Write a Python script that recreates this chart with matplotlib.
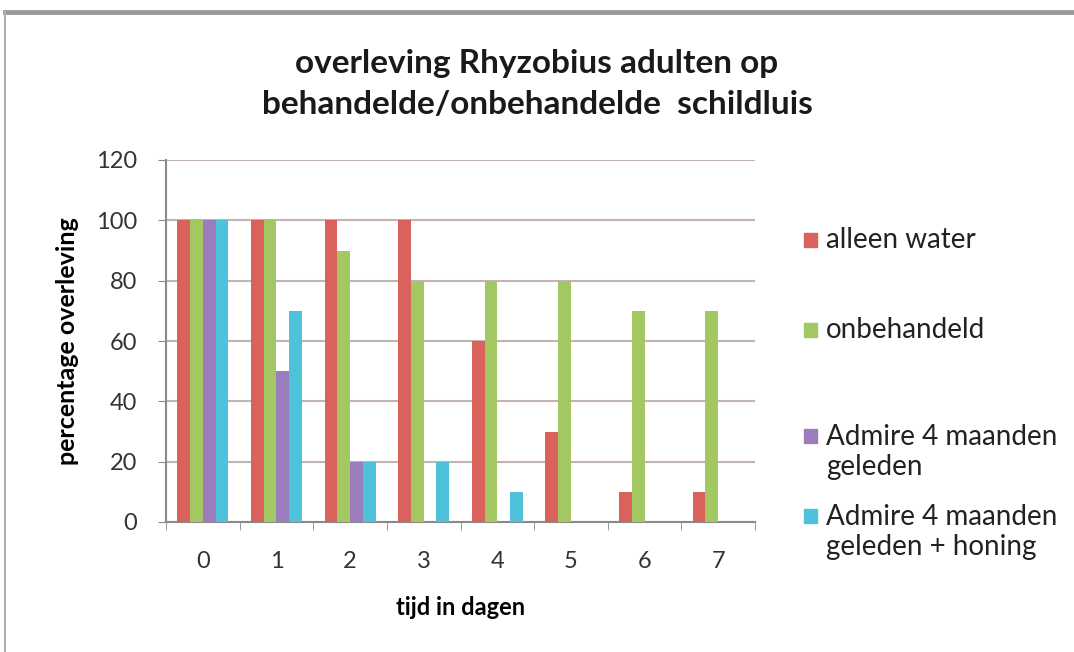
import numpy as np
import matplotlib.pyplot as plt
from matplotlib.lines import Line2D

plt.rcParams['font.family'] = ['Lato', 'DejaVu Sans']

days = ['0', '1', '2', '3', '4', '5', '6', '7']
alleen_water = [100, 100, 100, 100, 60, 30, 10, 10]
onbehandeld = [100, 100, 90, 80, 80, 80, 70, 70]
admire = [100, 50, 20, 0, 0, 0, 0, 0]
admire_honing = [100, 70, 20, 20, 10, 0, 0, 0]

series = [
    ('alleen water', alleen_water, '#d9625c'),
    ('onbehandeld', onbehandeld, '#a3c862'),
    ('Admire 4 maanden\ngeleden', admire, '#9b7dbd'),
    ('Admire 4 maanden\ngeleden + honing', admire_honing, '#4ec2db'),
]

fig = plt.figure(figsize=(10.74, 6.52), dpi=100)
ax = fig.add_axes([166 / 1074, 1 - 522 / 652, 589 / 1074, 362 / 652])

x = np.arange(len(days))
w = 0.173
for i, (name, vals, col) in enumerate(series):
    ax.bar(x + (i - 1.5) * w, vals, width=w, color=col, label=name, zorder=3)

ax.set_xlim(-0.5, len(days) - 0.5)
ax.set_ylim(0, 120)
ax.set_yticks(range(0, 121, 20))
ax.set_xticks(x)
ax.set_xticklabels(days)
ax.set_xticks(np.arange(-0.5, len(days)), minor=True)
ax.tick_params(axis='x', which='major', length=0, pad=21, labelsize=17, labelcolor='#333333')
ax.tick_params(axis='x', which='minor', length=6, color='#8a8a8a', direction='out')
ax.tick_params(axis='y', length=6, color='#8a8a8a', pad=15, labelsize=17, labelcolor='#333333')
ax.grid(axis='y', color='#c3b3b3', lw=1.5, zorder=0)
for s in ['top', 'right']:
    ax.spines[s].set_visible(False)
for s in ['left', 'bottom']:
    ax.spines[s].set_color('#8a8a8a')
    ax.spines[s].set_linewidth(1.5)

ax.set_ylabel('percentage overleving', fontsize=18, fontweight='bold', labelpad=12)
ax.set_xlabel('tijd in dagen', fontsize=17, fontweight='bold', labelpad=17)

fig.text(0.5, 1 - 84 / 652, 'overleving Rhyzobius adulten op\nbehandelde/onbehandelde  schildluis',
         ha='center', va='center', fontsize=24, fontweight='bold', linespacing=1.5, color='#1a1a1a')

# legend entries placed manually to follow the original spacing
leg_y = [240, 330, 452, 532]
for (name, vals, col), yy in zip(series, leg_y):
    first = 1 - (yy - (16 if '\n' in name else 0)) / 652
    fig.patches.append(plt.Rectangle((804 / 1074, first - 7 / 652), 13 / 1074, 14 / 652,
                                     transform=fig.transFigure, color=col, figure=fig))
    fig.text(826 / 1074, 1 - yy / 652, name, ha='left', va='center', fontsize=20,
             color='#222222', linespacing=1.15)

# outer frame lines
fig.add_artist(Line2D([5 / 1074, 1], [1 - 12 / 652, 1 - 12 / 652], color='#9a9a9a', lw=3.5))
fig.add_artist(Line2D([5 / 1074, 5 / 1074], [0, 1 - 12 / 652], color='#b0b0b0', lw=1.5))

fig.savefig('out.png', dpi=100)
